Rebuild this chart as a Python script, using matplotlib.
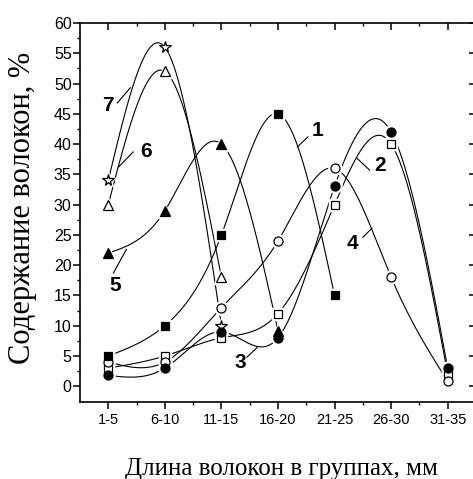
import numpy as np
import matplotlib
matplotlib.use("Agg")
import matplotlib.pyplot as plt

categories = ["1-5", "6-10", "11-15", "16-20", "21-25", "26-30", "31-35"]
s1 = [5, 10, 25, 45, 15]
s2 = [3, 5, 8, 12, 30, 40, 2]
s3 = [1.8, 3, 9, 8, 33, 42, 3]
s4 = [4, 4, 13, 24, 36, 18, 0.8]
s5 = [22, 29, 40, 9.2]
s6 = [30, 52, 18]
s7 = [34, 56, 10]
yticks = [0, 5, 10, 15, 20, 25, 30, 35, 40, 45, 50, 55, 60]


def natural_spline(x, y, n=300):
    x = np.asarray(x, float)
    y = np.asarray(y, float)
    k = len(x)
    h = np.diff(x)
    A = np.zeros((k, k))
    r = np.zeros(k)
    A[0, 0] = A[-1, -1] = 1
    for i in range(1, k - 1):
        A[i, i - 1] = h[i - 1]
        A[i, i] = 2 * (h[i - 1] + h[i])
        A[i, i + 1] = h[i]
        r[i] = 6 * ((y[i + 1] - y[i]) / h[i] - (y[i] - y[i - 1]) / h[i - 1])
    M = np.linalg.solve(A, r)
    xs = np.linspace(x[0], x[-1], n)
    idx = np.clip(np.searchsorted(x, xs) - 1, 0, k - 2)
    x0, x1 = x[idx], x[idx + 1]
    hh = x1 - x0
    t0 = x1 - xs
    t1 = xs - x0
    ys = (M[idx] * t0 ** 3 / (6 * hh) + M[idx + 1] * t1 ** 3 / (6 * hh)
          + (y[idx] - M[idx] * hh ** 2 / 6) * t0 / hh
          + (y[idx + 1] - M[idx + 1] * hh ** 2 / 6) * t1 / hh)
    return xs, ys


fig = plt.figure(figsize=(4.73, 4.79), dpi=100)
pos = [80 / 473, 77 / 479, (476 - 80) / 473, (402 - 23) / 479]
ax = fig.add_axes(pos)

series = [
    (s2, 's', 'white', 6.0),
    (s4, 'o', 'white', 6.5),
    (s6, '^', 'white', 7.0),
    (s7, '*', 'white', 8.5),
    (s1, 's', 'black', 6.0),
    (s3, 'o', 'black', 6.5),
    (s5, '^', 'black', 7.0),
]

for vals, m, fc, ms in series:
    xpos = np.arange(1, len(vals) + 1)
    xs, ys = natural_spline(xpos, vals)
    ax.plot(xs, ys, color='black', lw=0.8, zorder=2)
for vals, m, fc, ms in series:
    xpos = np.arange(1, len(vals) + 1)
    ax.plot(xpos, vals, ls='none', marker=m, ms=ms + 3, mfc='white', mec='white', zorder=3)
for vals, m, fc, ms in series:
    xpos = np.arange(1, len(vals) + 1)
    ax.plot(xpos, vals, ls='none', marker=m, ms=ms, mfc=fc, mec='black', mew=0.9, zorder=4)

for a in (ax,):
    a.set_xlim(0.5, 7.5)
    a.set_ylim(-2.6, 60)

ax.set_xticks(np.arange(1, 8))
ax.set_xticklabels(categories, family='Liberation Sans', fontsize=10.5)
ax.set_xticks(np.arange(1.5, 7.5, 1), minor=True)
ax.set_yticks(yticks)
ax.set_yticklabels([str(v) for v in yticks], family='Liberation Sans', fontsize=11.5)
ax.set_yticks(np.arange(2.5, 60, 5), minor=True)
for sp in ax.spines.values():
    sp.set_linewidth(1.2)
ax.tick_params(axis='both', which='major', length=5, width=1.1, direction='out')
ax.tick_params(axis='both', which='minor', length=2.5, width=1.0, direction='out')
ax.tick_params(axis='x', which='both', pad=3)
ax.tick_params(axis='y', which='both', pad=1)

# inward ticks on top and right
ax2 = fig.add_axes(pos, frameon=False)
ax2.set_xlim(0.5, 7.5)
ax2.set_ylim(-2.6, 60)
ax2.set_xticks(np.arange(1, 8))
ax2.set_xticks(np.arange(1.5, 7.5, 1), minor=True)
ax2.set_yticks(yticks)
ax2.set_yticks(np.arange(2.5, 60, 5), minor=True)
ax2.tick_params(axis='both', which='both', direction='in', bottom=False, left=False,
                top=True, right=True, labelbottom=False, labelleft=False,
                labeltop=False, labelright=False)
ax2.tick_params(axis='both', which='major', length=5, width=1.1)
ax2.tick_params(axis='both', which='minor', length=2.5, width=1.0)
ax2.patch.set_visible(False)

# curve labels
labels = [
    ("1", 4.69, 42.3, (4.34, 39.5), (4.53, 41.2)),
    ("2", 5.80, 36.5, (5.39, 37.7), (5.62, 35.7)),
    ("3", 3.33, 4.0, (3.45, 4.8), (3.63, 6.4)),
    ("4", 5.32, 23.6, (5.50, 24.6), (5.66, 26.1)),
    ("5", 1.12, 16.7, (1.09, 18.7), (1.32, 22.6)),
    ("6", 1.67, 38.8, (1.18, 36.2), (1.44, 38.7)),
    ("7", 1.00, 46.4, (1.16, 46.8), (1.39, 49.3)),
]
for txt, lx, ly, p0, p1 in labels:
    ax.text(lx, ly, txt, fontsize=15, fontweight='bold', family='Liberation Sans',
            ha='center', va='center', zorder=5)
    ax.plot([p0[0], p1[0]], [p0[1], p1[1]], color='black', lw=0.8, zorder=2)

fig.text(23 / 473, 1 - 208 / 479, "Содержание волокон, %", rotation=90,
         ha='center', va='center', fontsize=22, family='Liberation Serif')
fig.text(281 / 473, 4 / 479, "Длина волокон в группах, мм", ha='center',
         va='baseline', fontsize=18, family='Liberation Serif')

fig.savefig("out.png", dpi=100)
